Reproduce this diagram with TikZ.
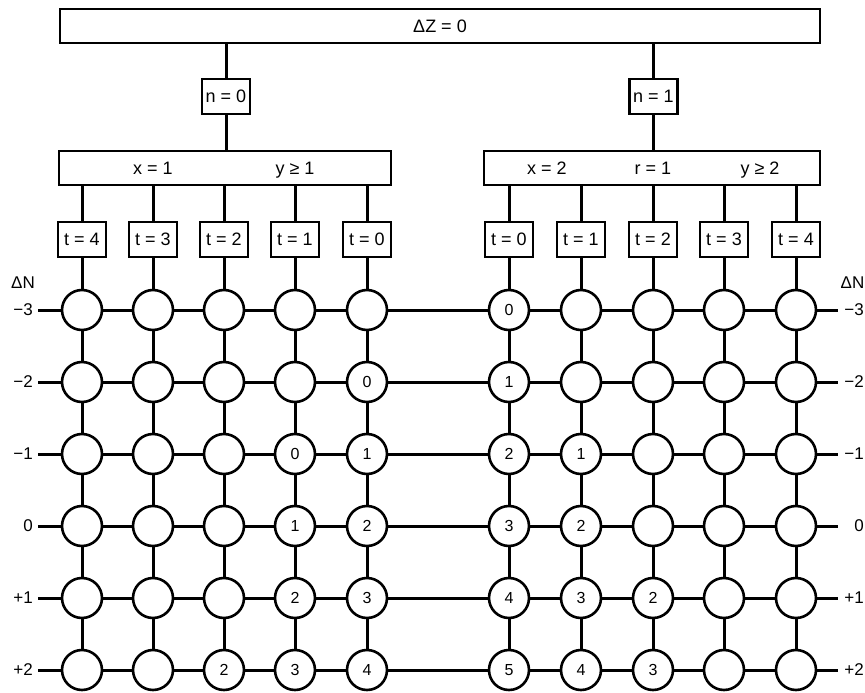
\documentclass[tikz,border=0pt]{standalone}
\usepackage{fontspec}
\setmainfont{Liberation Sans}
\begin{document}
\begin{tikzpicture}[x=1pt,y=-1pt,
  conn/.style={line width=3pt},
  box/.style={draw, line width=2.2pt, fill=white, inner sep=0pt, font=\fontsize{18}{18}\selectfont},
  tbox/.style={box, minimum width=48pt, minimum height=35pt},
  txt/.style={inner sep=0pt, anchor=base, font=\fontsize{18}{18}\selectfont},
  cell/.style={draw, circle, line width=2.6pt, fill=white, minimum size=40pt, inner sep=0pt},
  cnum/.style={inner sep=0pt, font=\fontsize{16}{16}\selectfont},
  lab/.style={inner sep=0pt, anchor=east, font=\fontsize{17}{17}\selectfont}
]
\useasboundingbox (0,0) rectangle (865,693);

% top structure
\node[box, minimum width=760pt, minimum height=34pt] (top) at (440,26) {ΔZ = 0};
\node[tbox] (n0) at (226,96.5) {n = 0};
\node[tbox] (n1) at (653.5,96.5) {n = 1};
\node[box, minimum width=332pt, minimum height=34pt] (lbox) at (225,168) {};
\node[box, minimum width=336pt, minimum height=34pt] (rbox) at (652,168) {};
\node[txt] (lx) at (153,174.5) {x = 1};
\node[txt] (ly) at (295,174.5) {y ≥ 1};
\node[txt] (rx) at (547,174.5) {x = 2};
\node[txt] (rr) at (653,174.5) {r = 1};
\node[txt] (ry) at (760,174.5) {y ≥ 2};
\draw[conn] (top.south -| n0) -- (n0);
\draw[conn] (top.south -| n1) -- (n1);
\draw[conn] (n0) -- (n0 |- lbox.north);
\draw[conn] (n1) -- (n1 |- rbox.north);

% t boxes
\foreach \c/\x/\t in {0/82/4,1/153/3,2/224/2,3/295/1,4/367/0}{
  \node[tbox] (tL-\c) at (\x,239.5) {t = \t};
  \draw[conn] (tL-\c.north) -- (tL-\c.north |- lbox.south);
}
\foreach \c/\x/\t in {0/509/0,1/581/1,2/653/2,3/724/3,4/796/4}{
  \node[tbox] (tR-\c) at (\x,239.5) {t = \t};
  \draw[conn] (tR-\c.north) -- (tR-\c.north |- rbox.south);
}

% circles
\foreach \r/\y in {0/310,1/382,2/454,3/526,4/598,5/670}{
  \foreach \c/\x in {0/82,1/153,2/224,3/295,4/367}{
    \node[cell] (L-\c-\r) at (\x,\y) {};
  }
  \foreach \c/\x in {0/509,1/581,2/653,3/724,4/796}{
    \node[cell] (R-\c-\r) at (\x,\y) {};
  }
  \coordinate (TL-\r) at (38,\y);
  \coordinate (TR-\r) at (838,\y);
}

% connectors
\foreach \r in {0,...,5}{
  \draw[conn] (TL-\r) -- (L-0-\r);
  \draw[conn] (L-4-\r) -- (R-0-\r);
  \draw[conn] (R-4-\r) -- (TR-\r);
  \foreach \c [evaluate=\c as \d using int(\c+1)] in {0,...,3}{
    \draw[conn] (L-\c-\r) -- (L-\d-\r);
    \draw[conn] (R-\c-\r) -- (R-\d-\r);
  }
}
\foreach \c in {0,...,4}{
  \draw[conn] (tL-\c) -- (L-\c-0);
  \draw[conn] (tR-\c) -- (R-\c-0);
  \foreach \r [evaluate=\r as \s using int(\r+1)] in {0,...,4}{
    \draw[conn] (L-\c-\r) -- (L-\c-\s);
    \draw[conn] (R-\c-\r) -- (R-\c-\s);
  }
}

% numbers in circles
\foreach \c/\r/\v in {4/1/0, 3/2/0, 4/2/1, 3/3/1, 4/3/2, 3/4/2, 4/4/3, 2/5/2, 3/5/3, 4/5/4}{
  \node[cnum] (Ln-\c-\r) at (L-\c-\r) {\v};
}
\foreach \c/\r/\v in {0/0/0, 0/1/1, 0/2/2, 1/2/1, 0/3/3, 1/3/2, 0/4/4, 1/4/3, 2/4/2, 0/5/5, 1/5/4, 2/5/3}{
  \node[cnum] (Rn-\c-\r) at (R-\c-\r) {\v};
}

% axis labels
\node[lab] (dNL) at (35,283) {ΔN};
\node[lab] (dNR) at (864.5,283) {ΔN};
\foreach \r/\y/\l in {0/310/−3,1/382/−2,2/454/−1,3/526/0,4/598/+1,5/670/+2}{
  \node[lab] (lL-\r) at (33,\y) {\l};
  \node[lab] (lR-\r) at (864,\y) {\l};
}
\end{tikzpicture}
\end{document}
